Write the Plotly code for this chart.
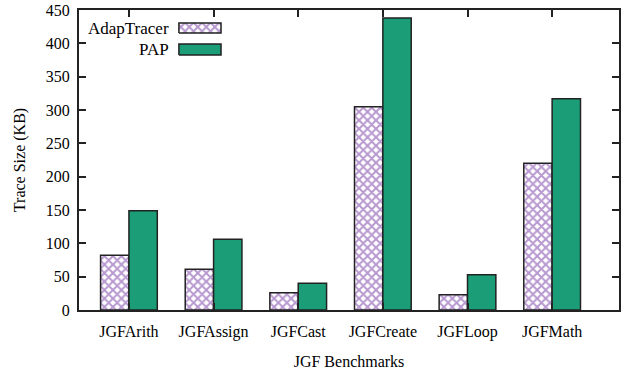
import plotly.graph_objects as go

categories = ["JGFArith", "JGFAssign", "JGFCast", "JGFCreate", "JGFLoop", "JGFMath"]
adaptracer = [82, 61, 26, 305, 23, 220]
pap = [149, 106, 40, 438, 53, 317]
series_names = ["AdapTracer", "PAP"]
y_ticks = [0, 50, 100, 150, 200, 250, 300, 350, 400, 450]

FONT = "Liberation Serif, Times New Roman, serif"
PURPLE = "#7030a0"
GREEN = "#1b9e77"
LINE = "#222222"
PAT = dict(shape="x", size=6, solidity=0.55, fgcolor=PURPLE, bgcolor="white")

fig = go.Figure()
fig.add_trace(go.Bar(
    x=categories, y=adaptracer, name=series_names[0],
    marker=dict(color="white", line=dict(color=LINE, width=1.5), pattern=PAT),
    showlegend=False,
))
fig.add_trace(go.Bar(
    x=categories, y=pap, name=series_names[1],
    marker=dict(color=GREEN, line=dict(color=LINE, width=1.5)),
    showlegend=False,
))

# legend key swatches (gnuplot style: text to the left of swatch)
sw_x = [0.185, 0.263]
sw_rows = [(0.923, 0.957), (0.850, 0.887)]
for i, (y0, y1) in enumerate(sw_rows):
    xs = [sw_x[0], sw_x[1], sw_x[1], sw_x[0], sw_x[0]]
    ys = [y0, y0, y1, y1, y0]
    if i == 0:
        fig.add_trace(go.Scatter(
            x=xs, y=ys, xaxis="x2", yaxis="y2", mode="lines", fill="toself",
            fillcolor="white", line=dict(color=LINE, width=1.5),
            fillpattern=PAT, showlegend=False, hoverinfo="skip"))
    else:
        fig.add_trace(go.Scatter(
            x=xs, y=ys, xaxis="x2", yaxis="y2", mode="lines", fill="toself",
            fillcolor=GREEN, line=dict(color=LINE, width=1.5),
            showlegend=False, hoverinfo="skip"))
    fig.add_annotation(x=0.170, y=(y0 + y1) / 2, xref="x2", yref="y2",
                       text=series_names[i], showarrow=False, xanchor="right",
                       yanchor="middle", font=dict(family=FONT, size=17, color="black"))

fig.update_layout(
    width=631, height=377,
    margin=dict(l=79, r=12, t=10, b=67),
    paper_bgcolor="white", plot_bgcolor="white",
    barmode="group", bargap=0.33, bargroupgap=0,
    font=dict(family=FONT, size=16, color="black"),
    xaxis=dict(
        type="category", range=[-0.59, 5.79], automargin=False,
        showline=True, linecolor=LINE, linewidth=2, mirror="ticks",
        ticks="inside", ticklen=7, tickwidth=1.5, tickcolor=LINE,
        showgrid=False, zeroline=False, ticklabelstandoff=6,
        title=dict(text="JGF Benchmarks", font=dict(family=FONT, size=16), standoff=16),
        tickfont=dict(family=FONT, size=16),
    ),
    yaxis=dict(
        range=[0, 450], tickvals=y_ticks, automargin=False,
        showline=True, linecolor=LINE, linewidth=2, mirror="ticks",
        ticks="inside", ticklen=7, tickwidth=1.5, tickcolor=LINE,
        showgrid=False, zeroline=False, ticklabelstandoff=4,
        title=dict(text="Trace Size (KB)", font=dict(family=FONT, size=16), standoff=16),
        tickfont=dict(family=FONT, size=16),
    ),
    xaxis2=dict(domain=[0, 1], range=[0, 1], overlaying="x", visible=False, fixedrange=True),
    yaxis2=dict(domain=[0, 1], range=[0, 1], overlaying="y", visible=False, fixedrange=True),
)

fig.write_html("out.html")
